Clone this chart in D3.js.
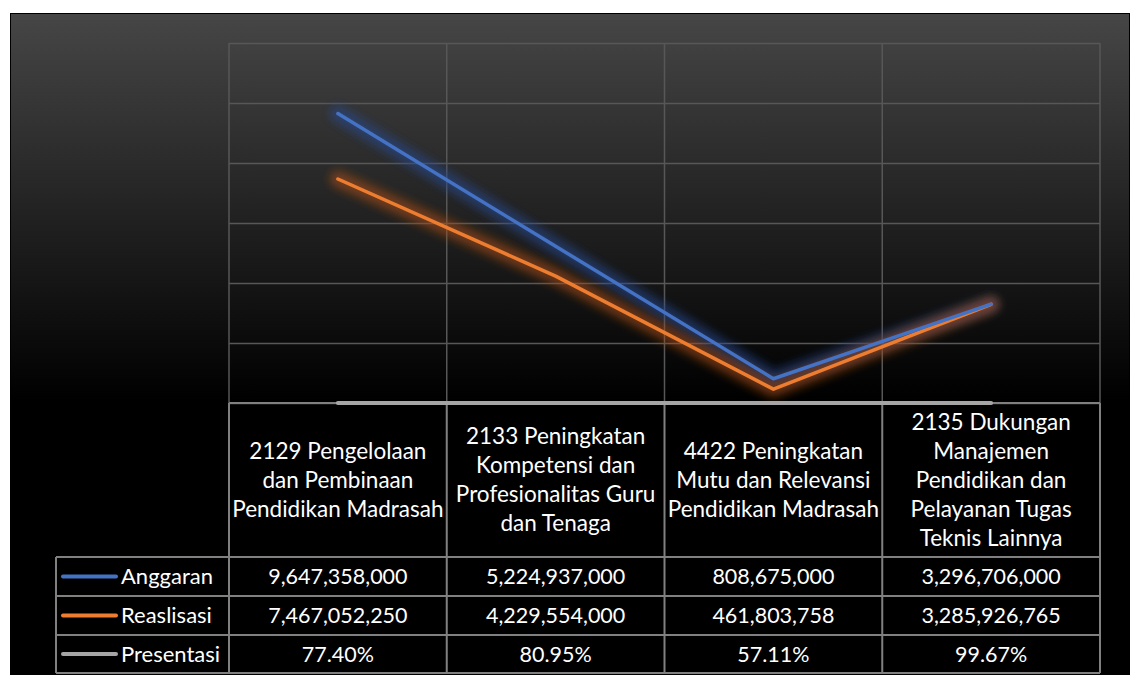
<!DOCTYPE html>
<html>
<head>
<meta charset="utf-8">
<script src="https://cdnjs.cloudflare.com/ajax/libs/d3/7.8.5/d3.min.js"></script>
<style>
  body { margin: 0; background: #fff; }
  svg { display: block; }
  text { font-family: Lato, "Open Sans", sans-serif; fill: #fff; }
</style>
</head>
<body>
<svg width="1135" height="675"></svg>
<script>
// category labels, split as they wrap in the table header
var categories = ["2129", "2133", "4422", "2135"];
var categoryLines = [
  ["2129 Pengelolaan", "dan Pembinaan", "Pendidikan Madrasah"],
  ["2133 Peningkatan", "Kompetensi dan", "Profesionalitas Guru", "dan Tenaga"],
  ["4422 Peningkatan", "Mutu dan Relevansi", "Pendidikan Madrasah"],
  ["2135 Dukungan", "Manajemen", "Pendidikan dan", "Pelayanan Tugas", "Teknis Lainnya"]
];
var seriesNames = ["Anggaran", "Reaslisasi", "Presentasi"];
var anggaran = [9647358000, 5224937000, 808675000, 3296706000];
var reaslisasi = [7467052250, 4229554000, 461803758, 3285926765];
var presentasi = [0.7740, 0.8095, 0.5711, 0.9967];
var yTicks = [0, 2e9, 4e9, 6e9, 8e9, 10e9, 12e9];

var colors = ["#4472c4", "#ed7d31", "#a5a5a5"];
var glowColors = ["#24478f", "#a94d12", "#4a4a4a"];

var svg = d3.select("svg");
var defs = svg.append("defs");

var bg = defs.append("linearGradient").attr("id", "bg")
  .attr("gradientUnits", "userSpaceOnUse")
  .attr("x1", 0).attr("y1", 13).attr("x2", 0).attr("y2", 400);
bg.append("stop").attr("offset", 0).attr("stop-color", "#464646");
bg.append("stop").attr("offset", 1).attr("stop-color", "#000");

defs.append("filter").attr("id", "glow")
  .attr("x", "-20%").attr("y", "-20%").attr("width", "140%").attr("height", "140%")
  .append("feGaussianBlur").attr("stdDeviation", 5);

// chart frame
svg.append("rect").attr("x", 10).attr("y", 13).attr("width", 1120).attr("height", 672)
  .attr("fill", "#000");
svg.append("rect").attr("x", 11).attr("y", 14).attr("width", 1118).attr("height", 390)
  .attr("fill", "url(#bg)");

var pLeft = 229, pRight = 1100, pTop = 43, pBottom = 403;
var x = d3.scaleBand().domain(categories).range([pLeft, pRight]).padding(0);
var y = d3.scaleLinear().domain([0, 12e9]).range([pBottom, pTop]);
var cx = function (d, i) { return x(categories[i]) + x.bandwidth() / 2; };

// gridlines
var grid = svg.append("g")
  .attr("transform", "translate(" + pLeft + ",0)")
  .call(d3.axisLeft(y).tickValues(yTicks).tickSize(-(pRight - pLeft)).tickFormat(""));
grid.select(".domain").remove();
grid.selectAll("line").attr("stroke", "#575757").attr("stroke-width", 1.5);

svg.append("g").selectAll("line")
  .data(categories.concat(["end"]))
  .join("line")
  .attr("x1", function (d, i) { return pLeft + i * x.bandwidth(); })
  .attr("x2", function (d, i) { return pLeft + i * x.bandwidth(); })
  .attr("y1", pTop).attr("y2", pBottom)
  .attr("stroke", "#575757").attr("stroke-width", 1.5);

// table
var rowTop = [557, 596, 635, 673];
var tbl = svg.append("g").attr("stroke", "#808080").attr("stroke-width", 2).attr("fill", "none");
tbl.append("line").attr("x1", pLeft).attr("x2", pRight).attr("y1", pBottom).attr("y2", pBottom);
rowTop.forEach(function (ry) {
  tbl.append("line").attr("x1", 56).attr("x2", pRight).attr("y1", ry).attr("y2", ry);
});
d3.range(categories.length + 1).forEach(function (i) {
  var xx = pLeft + i * x.bandwidth();
  tbl.append("line").attr("x1", xx).attr("x2", xx).attr("y1", pBottom).attr("y2", 673);
});
tbl.append("line").attr("x1", 56).attr("x2", 56).attr("y1", 557).attr("y2", 673);

// header labels
var hdr = svg.append("g").selectAll("text")
  .data(categoryLines)
  .join("text")
  .attr("text-anchor", "middle")
  .attr("font-size", 22.5);
hdr.each(function (lines, i) {
  var t = d3.select(this);
  var mid = (pBottom + 557) / 2;
  lines.forEach(function (ln, j) {
    t.append("tspan")
      .attr("x", cx(null, i))
      .attr("y", mid + (j - (lines.length - 1) / 2) * 29)
      .attr("dy", "0.35em")
      .text(ln);
  });
});

var fmtNum = d3.format(",.0f");
var fmtPct = function (v) { return d3.format(".2f")(v * 100) + "%"; };
var rows = [
  anggaran.map(fmtNum),
  reaslisasi.map(fmtNum),
  presentasi.map(fmtPct)
];

rows.forEach(function (vals, r) {
  var ry = (rowTop[r] + rowTop[r + 1]) / 2;
  svg.append("g").selectAll("text")
    .data(vals).join("text")
    .attr("x", cx)
    .attr("y", ry).attr("dy", "0.35em")
    .attr("text-anchor", "middle")
    .attr("font-size", 21.5)
    .text(function (d) { return d; });
  // legend key
  svg.append("line")
    .attr("x1", 63).attr("x2", 116).attr("y1", ry).attr("y2", ry)
    .attr("stroke", colors[r]).attr("stroke-width", 4).attr("stroke-linecap", "round");
  svg.append("text")
    .attr("x", 121).attr("y", ry).attr("dy", "0.35em")
    .attr("font-size", 22)
    .text(seriesNames[r]);
});

// lines, with a soft glow underneath
var line = d3.line()
  .x(function (d, i) { return cx(d, i); })
  .y(function (d) { return y(d); });
var series = [anggaran, reaslisasi, presentasi];

series.forEach(function (s, k) {
  svg.append("path").datum(s)
    .attr("d", line)
    .attr("fill", "none")
    .attr("stroke", glowColors[k]).attr("stroke-width", 16)
    .attr("stroke-opacity", k == 2 ? 0.35 : 0.6)
    .attr("stroke-linecap", "round").attr("stroke-linejoin", "round")
    .attr("filter", "url(#glow)");
});
series.slice().reverse().forEach(function (s, kk) {
  var k = 2 - kk;
  svg.append("path").datum(s)
    .attr("d", line)
    .attr("fill", "none")
    .attr("stroke", colors[k]).attr("stroke-width", k == 2 ? 4 : 3.5)
    .attr("stroke-linecap", "round").attr("stroke-linejoin", "round");
});
</script>
</body>
</html>
